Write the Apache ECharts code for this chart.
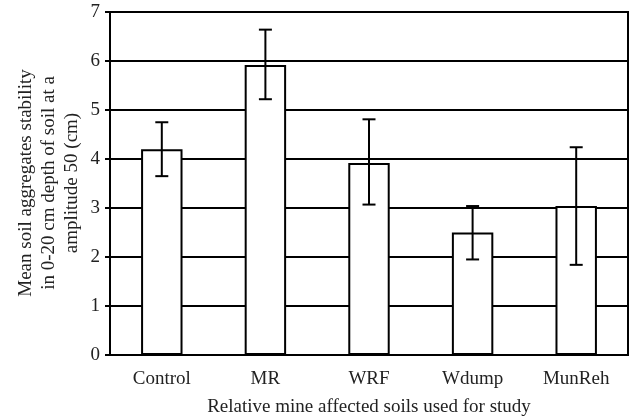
<!DOCTYPE html>
<html>
<head>
<meta charset="utf-8">
<script src="https://cdn.jsdelivr.net/npm/echarts@6/dist/echarts.min.js"></script>
<style>
	html, body { margin: 0; padding: 0; background: #fff; }
	#chart { width: 629px; height: 417px; }
</style>
</head>
<body>
<div id="chart"></div>
<script>
// values
var categories = [ 'Control', 'MR', 'WRF', 'Wdump', 'MunReh' ];
var means = [ 4.20, 5.92, 3.92, 2.50, 3.04 ];
var errLow = [ 3.65, 5.22, 3.07, 1.95, 1.84 ];
var errHigh = [ 4.75, 6.64, 4.81, 3.04, 4.24 ];

var font = 'Liberation Serif, Times New Roman, serif';

var errData = [];
for (var i = 0; i < categories.length; i++) {
	errData.push([ i, errLow[i], errHigh[i] ]);
}

var option = {
	animation : false,
	grid : {
		left : 110,
		right : 1,
		top : 12,
		bottom : 62,
		outerBoundsMode : 'none',
		show : true,
		borderColor : '#000',
		borderWidth : 2
	},
	graphic : [ {
		type : 'text',
		x : 49,
		y : 183,
		rotation : Math.PI / 2,
		style : {
			text : 'Mean soil aggregates stability\nin 0-20 cm depth of soil at a\namplitude 50 (cm)',
			font : '19px ' + font,
			lineHeight : 23,
			fill : '#222',
			textAlign : 'center',
			textVerticalAlign : 'middle'
		}
	} ],
	xAxis : {
		type : 'category',
		data : categories,
		name : 'Relative mine affected soils used for study',
		nameLocation : 'middle',
		nameGap : 43,
		nameTextStyle : {
			fontFamily : font,
			fontSize : 19,
			color : '#222'
		},
		axisLine : {
			lineStyle : {
				color : '#000',
				width : 2
			}
		},
		axisTick : {
			length : 6,
			lineStyle : {
				color : '#000',
				width : 2
			}
		},
		axisLabel : {
			margin : 15,
			fontFamily : font,
			fontSize : 19,
			color : '#222'
		}
	},
	yAxis : {
		type : 'value',
		min : 0,
		max : 7,
		interval : 1,
		axisLine : {
			show : true,
			lineStyle : {
				color : '#000',
				width : 2
			}
		},
		axisTick : {
			show : true,
			length : 5,
			lineStyle : {
				color : '#000',
				width : 2
			}
		},
		axisLabel : {
			margin : 10,
			fontFamily : font,
			fontSize : 19,
			color : '#222'
		},
		splitLine : {
			lineStyle : {
				color : '#000',
				width : 2
			}
		}
	},
	series : [ {
		type : 'bar',
		barWidth : '40%',
		data : means,
		itemStyle : {
			color : '#fff',
			borderColor : '#000',
			borderWidth : 2
		}
	}, {
		type : 'custom',
		data : errData,
		z : 5,
		renderItem : function(params, api) {
			var x = api.value(0);
			var lo = api.coord([ x, api.value(1) ]);
			var hi = api.coord([ x, api.value(2) ]);
			var half = 6.5;
			var style = {
				stroke : '#000',
				lineWidth : 2
			};
			return {
				type : 'group',
				children : [ {
					type : 'line',
					shape : { x1 : hi[0], y1 : hi[1], x2 : lo[0], y2 : lo[1] },
					style : style
				}, {
					type : 'line',
					shape : { x1 : hi[0] - half, y1 : hi[1], x2 : hi[0] + half, y2 : hi[1] },
					style : style
				}, {
					type : 'line',
					shape : { x1 : lo[0] - half, y1 : lo[1], x2 : lo[0] + half, y2 : lo[1] },
					style : style
				} ]
			};
		}
	} ]
};

var chart = echarts.init(document.getElementById('chart'));
chart.setOption(option);
</script>
</body>
</html>
